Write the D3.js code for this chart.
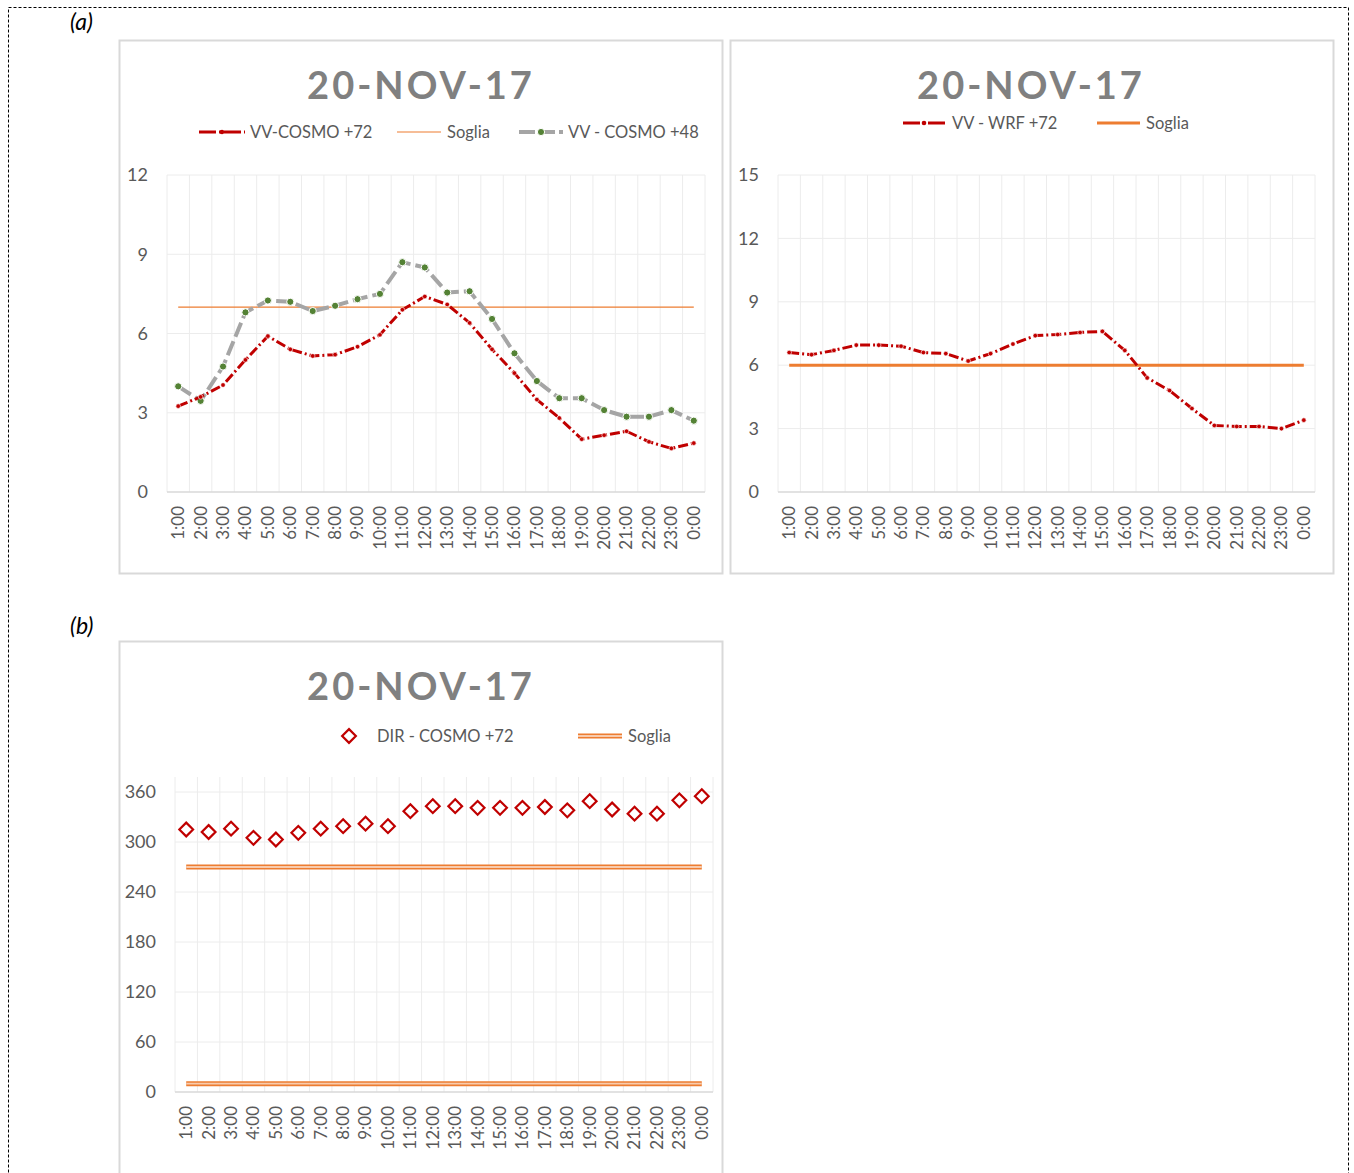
<!DOCTYPE html>
<html>
<head>
<meta charset="utf-8">
<script src="https://cdn.jsdelivr.net/npm/d3@7"></script>
<style>
  body { margin: 0; background: #fff; }
  text { font-family: Lato, "Open Sans", sans-serif; }
</style>
</head>
<body>
<svg id="fig" width="1354" height="1173"></svg>
<script>
// dati
var hours = ["1:00","2:00","3:00","4:00","5:00","6:00","7:00","8:00","9:00","10:00","11:00","12:00",
  "13:00","14:00","15:00","16:00","17:00","18:00","19:00","20:00","21:00","22:00","23:00","0:00"];
var vvCosmo72 = [3.25, 3.6, 4.05, 5.0, 5.9, 5.4, 5.15, 5.2, 5.5, 5.95, 6.9, 7.4,
  7.1, 6.4, 5.4, 4.5, 3.5, 2.8, 2.0, 2.15, 2.3, 1.9, 1.65, 1.85];
var vvCosmo48 = [4.0, 3.45, 4.75, 6.8, 7.25, 7.2, 6.85, 7.05, 7.3, 7.5, 8.7, 8.5,
  7.55, 7.6, 6.55, 5.25, 4.2, 3.55, 3.55, 3.1, 2.85, 2.85, 3.1, 2.7];
var soglia1 = 7;
var vvWrf72 = [6.6, 6.5, 6.7, 6.95, 6.95, 6.9, 6.6, 6.55, 6.2, 6.55, 7.0, 7.4,
  7.45, 7.55, 7.6, 6.7, 5.4, 4.8, 3.95, 3.15, 3.1, 3.1, 3.0, 3.4];
var soglia2 = 6;
var dirCosmo72 = [315, 312, 316, 305, 303, 311, 316, 319, 322, 319, 337, 343,
  343, 341, 341, 341, 342, 338, 349, 339, 334, 334, 350, 355];
var sogliaDir = [270, 10];
var title = "20-NOV-17";

var RED = "#c00000", ORANGE = "#ed7d31", GRAY = "#a5a5a5", GREEN = "#548235";
var TXT = "#595959";

var svg = d3.select("#fig");

// bordo tratteggiato esterno
svg.append("rect")
  .attr("x", 8.5).attr("y", 7.5).attr("width", 1340).attr("height", 1200)
  .attr("fill", "none").attr("stroke", "#000").attr("stroke-width", 1)
  .attr("stroke-dasharray", "3,2");

svg.append("text").attr("x", 70).attr("y", 30).text("(a)")
  .style("font-style", "italic").style("font-size", "23px").attr("fill", "#000");
svg.append("text").attr("x", 70).attr("y", 634).text("(b)")
  .style("font-style", "italic").style("font-size", "23px").attr("fill", "#000");

// cornici dei grafici
[[119.5, 40.5, 603, 533], [730.5, 40.5, 603, 533], [119.5, 641.5, 603, 580]].forEach(function (f) {
  svg.append("rect").attr("x", f[0]).attr("y", f[1]).attr("width", f[2]).attr("height", f[3])
    .attr("fill", "#fff").attr("stroke", "#d9d9d9").attr("stroke-width", 2);
});

function panel(o) {
  var g = svg.append("g");
  var x = d3.scaleBand().domain(hours).range([o.left, o.right]);
  var y = d3.scaleLinear().domain([0, o.yMax]).range([o.bottom, o.top]);

  // griglia
  var xs = hours.map(function (h) { return x(h); }).concat([o.right]);
  g.append("g").selectAll("line").data(xs).enter().append("line")
    .attr("x1", function (d) { return d; }).attr("x2", function (d) { return d; })
    .attr("y1", y(o.yMax)).attr("y2", o.bottom)
    .attr("stroke", "#ececec").attr("stroke-width", 1);
  g.append("g").selectAll("line").data(o.ticks.slice(1)).enter().append("line")
    .attr("x1", o.left).attr("x2", o.right)
    .attr("y1", function (d) { return y(d); }).attr("y2", function (d) { return y(d); })
    .attr("stroke", "#ececec").attr("stroke-width", 1);
  g.append("line").attr("x1", o.left).attr("x2", o.right)
    .attr("y1", o.bottom).attr("y2", o.bottom)
    .attr("stroke", "#d9d9d9").attr("stroke-width", 1.5);

  // asse y
  var ya = g.append("g").attr("transform", "translate(" + (o.left - 19) + ",0)")
    .call(d3.axisLeft(y).tickValues(o.ticks).tickSize(0).tickPadding(0));
  ya.select(".domain").remove();
  ya.selectAll("text").style("font-size", "18px").style("font-family", "Lato, sans-serif")
    .attr("fill", TXT);

  // asse x (etichette ruotate)
  var xa = g.append("g").attr("transform", "translate(0," + o.bottom + ")")
    .call(d3.axisBottom(x).tickSize(0).tickPadding(0));
  xa.select(".domain").remove();
  xa.selectAll("text")
    .style("font-size", "17px").style("font-family", "Lato, sans-serif").attr("fill", TXT)
    .attr("text-anchor", "end").attr("y", 0).attr("dy", "0.35em")
    .attr("transform", "translate(0,14) rotate(-90)");

  // titolo
  g.append("text").attr("x", o.cx).attr("y", o.titleY).attr("text-anchor", "middle")
    .text(title).style("font-size", "38px").style("font-weight", "bold")
    .style("letter-spacing", "3px").attr("fill", "#808080");

  return { g: g, x: x, y: y };
}

function cx(p, h) { return p.x(h) + p.x.bandwidth() / 2; }

function drawSeries(p, values, st) {
  var line = d3.line()
    .x(function (d, i) { return cx(p, hours[i]); })
    .y(function (d) { return p.y(d); });
  p.g.append("path").datum(values).attr("d", line)
    .attr("fill", "none").attr("stroke", st.color).attr("stroke-width", st.width)
    .attr("stroke-dasharray", st.dash).attr("stroke-linejoin", "round");
  p.g.append("g").selectAll("circle").data(values).enter().append("circle")
    .attr("cx", function (d, i) { return cx(p, hours[i]); })
    .attr("cy", function (d) { return p.y(d); })
    .attr("r", st.r).attr("fill", st.marker).attr("stroke", "#fff").attr("stroke-width", st.mstroke);
}

function hline(p, v, width) {
  p.g.append("line")
    .attr("x1", cx(p, hours[0])).attr("x2", cx(p, hours[hours.length - 1]))
    .attr("y1", p.y(v)).attr("y2", p.y(v))
    .attr("stroke", ORANGE).attr("stroke-width", width);
}

function doubleLine(g, x1, x2, yy) {
  g.append("line").attr("x1", x1).attr("x2", x2).attr("y1", yy).attr("y2", yy)
    .attr("stroke", ORANGE).attr("stroke-width", 5);
  g.append("line").attr("x1", x1).attr("x2", x2).attr("y1", yy).attr("y2", yy)
    .attr("stroke", "#f8cbad").attr("stroke-width", 1.8);
}

function legendText(g, x, y, t) {
  g.append("text").attr("x", x).attr("y", y).attr("dy", "0.35em").text(t)
    .style("font-size", "16.5px").attr("fill", TXT);
}

var redStyle = { color: RED, width: 3, dash: "10,3,2,3", r: 2.3, marker: RED, mstroke: 0.6 };
var grayStyle = { color: GRAY, width: 4, dash: "15,5", r: 3.6, marker: GREEN, mstroke: 1 };

// ---- grafico 1
var p1 = panel({ left: 167, right: 705, top: 175, bottom: 492, yMax: 12, ticks: [0, 3, 6, 9, 12],
  cx: 421, titleY: 99 });
hline(p1, soglia1, 1.2);
drawSeries(p1, vvCosmo48, grayStyle);
drawSeries(p1, vvCosmo72, redStyle);

var l1 = p1.g.append("g");
l1.append("line").attr("x1", 199).attr("x2", 245).attr("y1", 132).attr("y2", 132)
  .attr("stroke", RED).attr("stroke-width", 3).attr("stroke-dasharray", "17,3,2,3");
l1.append("circle").attr("cx", 222).attr("cy", 132).attr("r", 2.3).attr("fill", RED);
legendText(l1, 250, 132, "VV-COSMO +72");
l1.append("line").attr("x1", 397).attr("x2", 441).attr("y1", 132).attr("y2", 132)
  .attr("stroke", ORANGE).attr("stroke-width", 1.2);
legendText(l1, 447, 132, "Soglia");
l1.append("line").attr("x1", 519).attr("x2", 563).attr("y1", 132).attr("y2", 132)
  .attr("stroke", GRAY).attr("stroke-width", 4).attr("stroke-dasharray", "16,4");
l1.append("circle").attr("cx", 541).attr("cy", 132).attr("r", 3.6).attr("fill", GREEN)
  .attr("stroke", "#fff").attr("stroke-width", 1);
legendText(l1, 568, 132, "VV - COSMO +48");

// ---- grafico 2
var p2 = panel({ left: 778, right: 1315, top: 175, bottom: 492, yMax: 15, ticks: [0, 3, 6, 9, 12, 15],
  cx: 1031, titleY: 99 });
hline(p2, soglia2, 3);
drawSeries(p2, vvWrf72, redStyle);

var l2 = p2.g.append("g");
l2.append("line").attr("x1", 903).attr("x2", 946).attr("y1", 123).attr("y2", 123)
  .attr("stroke", RED).attr("stroke-width", 3).attr("stroke-dasharray", "17,3,2,3");
l2.append("circle").attr("cx", 924).attr("cy", 123).attr("r", 2.3).attr("fill", RED);
legendText(l2, 952, 123, "VV - WRF +72");
l2.append("line").attr("x1", 1097).attr("x2", 1140).attr("y1", 123).attr("y2", 123)
  .attr("stroke", ORANGE).attr("stroke-width", 3);
legendText(l2, 1146, 123, "Soglia");

// ---- grafico 3 (direzione)
var p3 = panel({ left: 175, right: 713, top: 777, bottom: 1092, yMax: 378,
  ticks: [0, 60, 120, 180, 240, 300, 360], cx: 421, titleY: 700 });
sogliaDir.forEach(function (v) {
  doubleLine(p3.g, cx(p3, hours[0]), cx(p3, hours[hours.length - 1]), p3.y(v));
});
var diamond = d3.symbol().type(d3.symbolDiamond2).size(120);
p3.g.append("g").selectAll("path").data(dirCosmo72).enter().append("path")
  .attr("d", diamond)
  .attr("transform", function (d, i) { return "translate(" + cx(p3, hours[i]) + "," + p3.y(d) + ")"; })
  .attr("fill", "#fff").attr("stroke", RED).attr("stroke-width", 2.2);

var l3 = p3.g.append("g");
l3.append("path").attr("d", diamond).attr("transform", "translate(349,736)")
  .attr("fill", "#fff").attr("stroke", RED).attr("stroke-width", 2.2);
legendText(l3, 377, 736, "DIR - COSMO +72");
doubleLine(l3, 578, 622, 736);
legendText(l3, 628, 736, "Soglia");
</script>
</body>
</html>
